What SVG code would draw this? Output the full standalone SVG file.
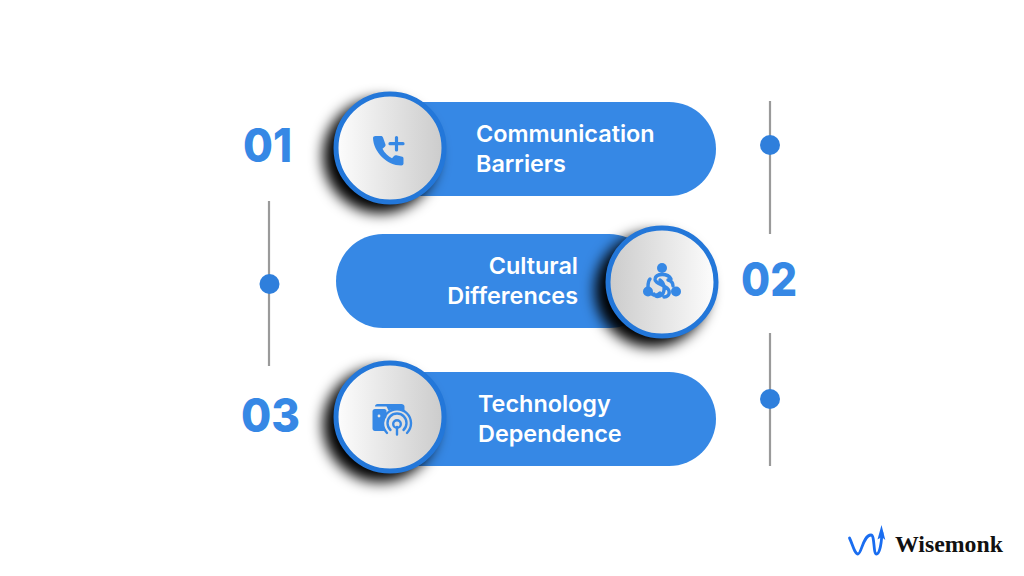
<svg xmlns="http://www.w3.org/2000/svg" width="1024" height="576" viewBox="0 0 1024 576">
<style>
.pill{fill:#3688e5}
.ring{stroke:#2377d9;stroke-width:5}
.lab{font-family:Inter,"Liberation Sans",sans-serif;font-weight:600;font-size:23.4px;fill:#fff}
.num{font-family:Inter,"Liberation Sans",sans-serif;font-weight:800;font-size:47px;fill:#3688e5}
.line{stroke:#9a9a9a;stroke-width:2.2}
.dot{fill:#2f7fdc}
.ic{fill:#3688e5}
.ics{fill:none;stroke:#3688e5;stroke-linecap:round}
</style>
<defs>
<linearGradient id="gl" x1="0" x2="1" y1="0" y2="0"><stop offset="0" stop-color="#fdfdfd"/><stop offset="1" stop-color="#cbcbcb"/></linearGradient>
<linearGradient id="gr" x1="1" x2="0" y1="0" y2="0"><stop offset="0" stop-color="#fdfdfd"/><stop offset="1" stop-color="#cbcbcb"/></linearGradient>
<filter id="sh" x="-40%" y="-40%" width="180%" height="180%"><feGaussianBlur stdDeviation="7"/></filter>
</defs>
<rect width="1024" height="576" fill="#fff"/>
<g id="connectors">
<line class="line" x1="770" y1="101" x2="770" y2="234"/><circle class="dot" cx="770" cy="145" r="10"/>
<line class="line" x1="269" y1="201" x2="269" y2="366"/><circle class="dot" cx="269.500" cy="284" r="10"/>
<line class="line" x1="770" y1="333" x2="770" y2="466"/><circle class="dot" cx="770" cy="399" r="10"/>
</g>
<g id="node-1">
<text class="num" x="243" y="162" textLength="49" lengthAdjust="spacingAndGlyphs">01</text>
<rect class="pill" x="336" y="102" width="380" height="94" rx="47"/>
<circle cx="380" cy="156" r="57" fill="#000" filter="url(#sh)"/>
<circle class="ring" cx="390" cy="148" r="54" fill="url(#gl)"/>
<path class="ic" d="M375.500 136h5.500c1 0 1.500.5 2 1.500l2.500 7c.3 1-.2 1.800-1 2.500l-2 1.800c2 4 5.500 7.500 9.500 9.500l1.800-2c.7-.8 1.500-1.300 2.500-1l6 1.500c1 .3 1.200 1.200 1.200 2v4.700c0 1.200-1 2-2.200 2-14.500 0-27.800-13.500-28.300-27.500 0-1.300 1-2 2.500-2z"/>
<path class="ics" stroke-width="3.200" stroke-linecap="butt" d="M396.500 137.500v12.500M390 143.700h13"/>
<text class="lab" x="476" y="142">Communication</text>
<text class="lab" x="476" y="172">Barriers</text>
</g>
<g id="node-2">
<rect class="pill" x="336" y="234" width="320" height="94" rx="47"/>
<circle cx="652" cy="290" r="57" fill="#000" filter="url(#sh)"/>
<circle class="ring" cx="662" cy="282" r="54" fill="url(#gr)"/>
<circle class="ic" cx="662" cy="268" r="5"/><circle class="ic" cx="648" cy="291.500" r="5"/><circle class="ic" cx="676" cy="291.500" r="5"/>
<path class="ics" stroke-width="3.400" d="M671 279c-3-6-15-6-16 0-1 5 13 6 14 12 1 4-2 6-5 6M660 280c5 3 6 13 0 16-3 1-5 0-6-2M668 280c4 1 5 4 5 6M650 279c-2 2-2 5-2 8M652 294c3 2 6 1 8-1"/>
<text class="lab" x="578" y="274" text-anchor="end">Cultural</text>
<text class="lab" x="578" y="304" text-anchor="end">Differences</text>
<text class="num" x="741" y="296" textLength="56" lengthAdjust="spacingAndGlyphs">02</text>
</g>
<g id="node-3">
<text class="num" x="241" y="432" textLength="59" lengthAdjust="spacingAndGlyphs">03</text>
<rect class="pill" x="336" y="372" width="380" height="94" rx="47"/>
<circle cx="380" cy="425" r="57" fill="#000" filter="url(#sh)"/>
<circle class="ring" cx="390" cy="417" r="54" fill="url(#gl)"/>
<path class="ic" d="M375 409h9.500c1 0 2 1 2 2v6c-2.500 3-3.500 8-1.500 12.500 0 .8-.5 1.500-1.500 1.500H375c-1.500 0-2.500-1-2.500-2.500v-17c0-1.500 1-2.500 2.500-2.500z"/>
<circle cx="379" cy="416" r="1.400" fill="#e6e6e6"/>
<path class="ic" d="M375 406.500c0-1.500 1-2.500 2.500-2.500h24c1.500 0 3 1 3 2.500v4h-3c-4-2-9-2-13 0l-2-4z"/>
<g class="ics" stroke-width="2.400"><circle cx="397" cy="424" r="3.800"/><path d="M397 427v7.500M390.500 430a9.500 9.500 0 1 1 13 0M387 433a14 14 0 1 1 20 0"/></g>
<text class="lab" x="478" y="412">Technology</text>
<text class="lab" x="478" y="442">Dependence</text>
</g>
<g id="logo">
<path fill="none" stroke="#1a6df0" stroke-width="2.800" stroke-linecap="round" stroke-linejoin="round" d="M849.500 538c3 6 5 16 8.500 16s5-19 13-19c4 0 2 19 5.500 19s5-12 5.500-21"/>
<path fill="#1a6df0" d="M881.500 525l3.800 15-3.500-3-4.300 2.500z"/>
<text x="895" y="552" font-family="Liberation Serif,serif" font-weight="700" font-size="24" fill="#111" textLength="108" lengthAdjust="spacingAndGlyphs">Wisemonk</text>
</g>
</svg>
